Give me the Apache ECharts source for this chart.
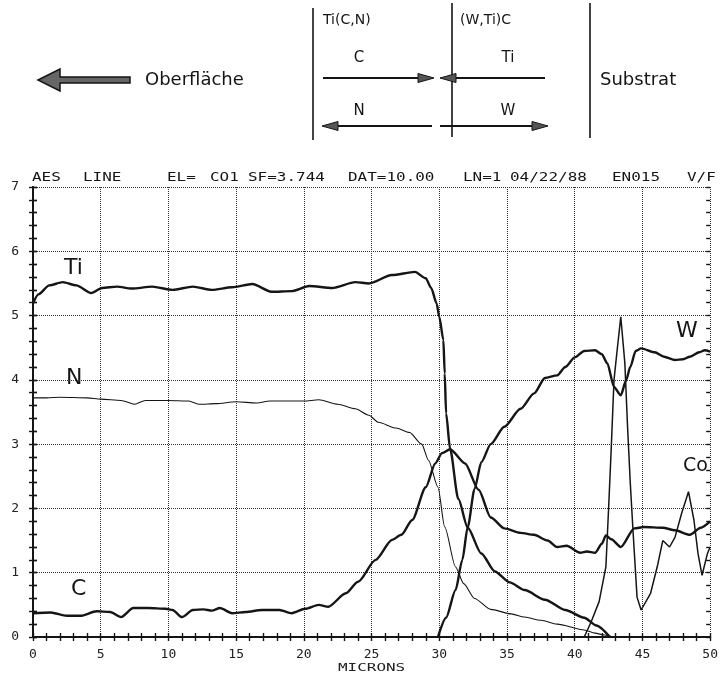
<!DOCTYPE html>
<html><head><meta charset="utf-8">
<script src="https://cdn.jsdelivr.net/npm/echarts@6/dist/echarts.min.js"></script>
<style>html,body{margin:0;padding:0;background:#fff}#c{width:721px;height:678px}</style>
</head><body><div id="c"></div>
<script>
// ---- data (micron, intensity) ----
const ti = [[0,5.19],[0.4,5.33],[1.2,5.47],[2.2,5.52],[3.2,5.47],[4.3,5.35],[5.1,5.43],[6.2,5.45],[7.3,5.42],[8.8,5.45],[10.3,5.40],[11.8,5.45],[13.2,5.40],[14.7,5.44],[16.2,5.49],[17.6,5.37],[19.1,5.38],[20.4,5.46],[22.1,5.43],[23.8,5.52],[24.8,5.50],[26.5,5.63],[28.2,5.68],[29.0,5.58],[29.4,5.43],[29.8,5.19],[30.0,4.98],[30.3,4.62],[30.4,4.10],[30.5,3.48],[30.8,2.92],[31.4,2.15],[32.1,1.70],[33.1,1.30],[34.1,1.02],[35.2,0.85],[36.3,0.73],[37.8,0.58],[39.3,0.42],[40.7,0.30],[41.6,0.18],[42.6,0.0]];
const carbon = [[0,0.37],[1.3,0.38],[2.5,0.33],[3.5,0.33],[4.7,0.40],[5.7,0.39],[6.5,0.31],[7.4,0.45],[8.5,0.45],[9.8,0.44],[10.3,0.42],[11.0,0.31],[11.8,0.42],[12.6,0.43],[13.2,0.41],[13.8,0.45],[14.7,0.37],[15.7,0.39],[16.9,0.42],[18.2,0.42],[19.1,0.37],[20.1,0.44],[21.1,0.50],[21.8,0.47],[23.1,0.68],[24.0,0.86],[25.3,1.20],[26.5,1.51],[27.2,1.59],[28.0,1.82],[29.0,2.33],[29.7,2.70],[30.2,2.86],[30.8,2.92],[31.9,2.70],[32.9,2.29],[33.8,1.86],[34.8,1.69],[36.0,1.62],[37.0,1.59],[38.0,1.50],[38.7,1.40],[39.4,1.42],[40.4,1.31],[40.9,1.33],[41.5,1.31],[42.0,1.45],[42.3,1.58],[42.7,1.52],[43.4,1.40],[44.4,1.69],[45.1,1.71],[46.5,1.70],[47.4,1.66],[48.5,1.59],[49.3,1.70],[50,1.80]];
const nitrogen = [[0,3.72],[1,3.72],[2,3.73],[4,3.72],[5,3.70],[6.5,3.68],[7.5,3.62],[8.3,3.68],[10,3.68],[11.5,3.67],[12.3,3.62],[13.5,3.63],[15,3.66],[16.5,3.64],[17.5,3.67],[19,3.67],[20,3.67],[21.1,3.69],[22.5,3.62],[23.8,3.55],[24.8,3.45],[25.5,3.34],[26.8,3.25],[27.8,3.18],[28.7,3.00],[29.2,2.75],[29.9,2.33],[30.4,1.71],[31.2,1.09],[31.8,0.83],[32.6,0.60],[33.8,0.43],[35.3,0.36],[36.3,0.31],[37.5,0.26],[38.7,0.20],[40.7,0.11],[41.5,0.06],[42.2,0.03],[42.8,0.0]];
const tungsten = [[29.9,0],[30.5,0.3],[31.2,0.73],[31.7,1.2],[32.1,1.71],[32.6,2.3],[33.1,2.72],[33.8,3.0],[34.8,3.27],[36.0,3.55],[37.0,3.79],[37.8,4.03],[38.7,4.07],[39.3,4.2],[40.0,4.35],[40.7,4.45],[41.5,4.46],[42.0,4.40],[42.4,4.26],[42.9,3.89],[43.4,3.76],[43.8,4.0],[44.1,4.2],[44.5,4.45],[44.9,4.49],[45.9,4.43],[46.6,4.36],[47.4,4.31],[48.0,4.32],[48.5,4.36],[49.2,4.43],[49.6,4.46],[50,4.44]];
const cobalt = [[40.7,0],[41.2,0.23],[41.8,0.55],[42.3,1.09],[42.5,2.0],[42.7,2.96],[42.9,4.0],[43.15,4.5],[43.4,4.98],[43.7,4.26],[43.9,3.27],[44.1,2.4],[44.3,1.66],[44.6,0.62],[44.9,0.42],[45.6,0.68],[46.1,1.1],[46.5,1.5],[47.0,1.4],[47.4,1.55],[47.9,1.93],[48.4,2.26],[48.8,1.82],[49.1,1.3],[49.4,0.96],[49.8,1.3],[50,1.4]];

const headerWords = ['AES','LINE','EL=','CO1','SF=3.744','DAT=10.00','LN=1','04/22/88','EN015','V/F'];
const curveLabels = ['Ti','N','C','W','Co'];
const layerLabels = ['Ti(C,N)','(W,Ti)C'];
const xAxisName = 'MICRONS';

// ---- layout (pixels) ----
const headerX = [32,83,167,210,248,348,463,510,612,687];
const labelPos = [[64,268],[66,378],[71,589],[676,331],[683,466]];

const chart = echarts.init(document.getElementById('c'), null, {renderer:'canvas'});
const INK = '#151515';
const mono = 'DejaVu Sans Mono';

const tickStyle = {color: INK, width: 1.4};
function yAx(pos, inside, main){
  return {type:'value', min:0, max:7, interval:1, position:pos,
    axisLine:{show:!!main, lineStyle:{color:INK, width:2}},
    axisTick:{show:true, inside:inside, length:4, lineStyle:tickStyle},
    minorTick:{show:true, splitNumber:5, length:4, lineStyle:tickStyle},
    axisLabel:{show: main && pos==='left', margin:14, fontFamily:mono, fontSize:13, color:'#222'},
    splitLine:{show: main && pos==='left', lineStyle:{type:'dotted', color:'#333', width:1}}};
}
function xAx(inside, main){
  return {type:'value', min:0, max:50, interval:5, position:'bottom',
    axisLine:{show:!!main, lineStyle:{color:INK, width:2}},
    axisTick:{show:true, inside:inside, length:4, lineStyle:tickStyle},
    minorTick:{show:true, splitNumber:5, length:4, lineStyle:tickStyle},
    axisLabel:{show:!!main, margin:11, fontFamily:mono, fontSize:13, color:'#222'},
    splitLine:{show:!!main, lineStyle:{type:'dotted', color:'#333', width:1}}};
}

function line(name, data, width, opts){
  return Object.assign({type:'line', name:name, data:data, xAxisIndex:0, yAxisIndex:0,
    showSymbol:false, symbol:'none', smooth:0.25, smoothMonotone:'x',
    lineStyle:{color:INK, width:width}, z:5, animation:false}, opts||{});
}

const graphic = [];
// header text above plot
headerWords.forEach((w,i)=>{
  graphic.push({type:'text', x:headerX[i], y:184, scaleX:1.33,
    style:{text:w, font:'12px "DejaVu Sans Mono"', fill:INK, textVerticalAlign:'bottom'}});
});
// x axis name
graphic.push({type:'text', x:338, y:668, scaleX:1.45,
  style:{text:xAxisName, font:'11px "DejaVu Sans Mono"', fill:'#222', textVerticalAlign:'middle'}});
// curve labels (handwritten in original)
curveLabels.forEach((t,i)=>{
  graphic.push({type:'text', x:labelPos[i][0], y:labelPos[i][1],
    style:{text:t, font:(i===4?'19px':'22px')+' "DejaVu Sans"', fill:INK, textVerticalAlign:'middle'}});
});
// top schematic
const dia = [];
dia.push({type:'polygon', shape:{points:[[38,80],[60,69],[60,77],[130,77],[130,83],[60,83],[60,91]]},
  style:{fill:'#666', stroke:INK, lineWidth:1.5}});
dia.push({type:'text', x:145, y:80, style:{text:'Oberfläche', font:'18px "DejaVu Sans"', fill:INK, textVerticalAlign:'middle'}});
dia.push({type:'text', x:600, y:80, style:{text:'Substrat', font:'18px "DejaVu Sans"', fill:INK, textVerticalAlign:'middle'}});
[[313,8,140],[452,3,137],[590,3,138]].forEach(v=>{
  dia.push({type:'line', shape:{x1:v[0],y1:v[1],x2:v[0],y2:v[2]}, style:{stroke:INK, lineWidth:1.6}});
});
dia.push({type:'text', x:323, y:20, style:{text:layerLabels[0], font:'14px "DejaVu Sans"', fill:INK, textVerticalAlign:'middle'}});
dia.push({type:'text', x:460, y:20, style:{text:layerLabels[1], font:'14px "DejaVu Sans"', fill:INK, textVerticalAlign:'middle'}});
function arrow(x1,x2,y){ // head at x2
  const d = x2 > x1 ? 1 : -1;
  dia.push({type:'line', shape:{x1:x1,y1:y,x2:x2-d*12,y2:y}, style:{stroke:INK, lineWidth:1.8}});
  dia.push({type:'polygon', shape:{points:[[x2,y],[x2-d*16,y-4.5],[x2-d*16,y+4.5]]}, style:{fill:'#555', stroke:INK, lineWidth:1}});
}
arrow(323,434,78); arrow(545,440,78); arrow(432,322,126); arrow(440,548,126);
[['C',359,58],['Ti',508,58],['N',359,111],['W',508,111]].forEach(t=>{
  dia.push({type:'text', x:t[1], y:t[2], style:{text:t[0], font:'15px "DejaVu Sans"', fill:INK, textAlign:'center', textVerticalAlign:'middle'}});
});
graphic.push({type:'group', children:dia});

chart.setOption({
  backgroundColor:'#fff',
  animation:false,
  grid:{left:33, right:8, top:187, bottom:41, containLabel:false},
  xAxis:[ xAx(false,true), xAx(true,false),
    {type:'value', min:0, max:50, position:'top', axisLine:{show:true, lineStyle:{color:INK, width:1.5}},
     axisTick:{show:false}, axisLabel:{show:false}, splitLine:{show:false}} ],
  yAxis:[ yAx('left',false,true), yAx('left',true,false),
    Object.assign(yAx('right',false,true),{axisLabel:{show:false}, splitLine:{show:false}}), yAx('right',true,false) ],
  series:[
    line('Ti', ti, 2.4),
    line('C', carbon, 2.4),
    line('N', nitrogen, 1.1),
    line('W', tungsten, 2.4),
    line('Co', cobalt, 1.5, {smooth:false})
  ],
  graphic:graphic
});
</script></body></html>
